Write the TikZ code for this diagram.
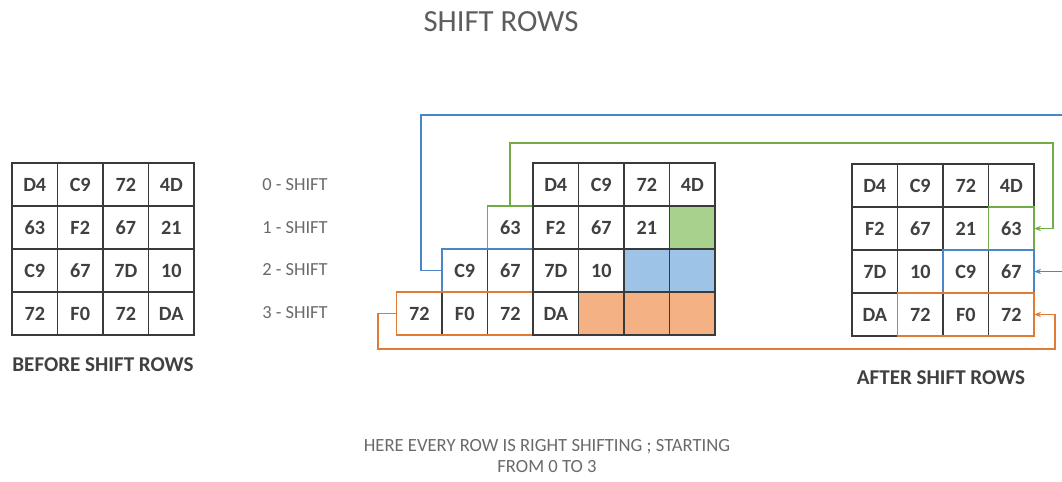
\documentclass[tikz,border=0pt]{standalone}
\usepackage{fontspec}
\setmainfont{Carlito}
\usetikzlibrary{arrows.meta, positioning}

\definecolor{cellline}{HTML}{3A3A3A}
\definecolor{celltext}{HTML}{404040}
\definecolor{labeltext}{HTML}{6A6A6A}
\definecolor{shgreen}{HTML}{A9D18E}
\definecolor{shblue}{HTML}{9DC3E6}
\definecolor{shorange}{HTML}{F4B183}
\definecolor{lgreen}{HTML}{70AD47}
\definecolor{lblue}{HTML}{4A86C8}
\definecolor{lorange}{HTML}{E07B35}

\begin{document}
\begin{tikzpicture}[x=0.02cm, y=-0.02cm, >={Stealth[length=4pt,width=3pt]},
    cell/.style={draw=cellline, line width=1.1pt, fill=white, minimum width=0.91cm,
        minimum height=0.86cm, inner sep=0pt, outer sep=0pt,
        font=\fontsize{11.5}{13}\selectfont\bfseries, text=celltext},
    shiftlbl/.style={font=\fontsize{10.5}{12}\selectfont, text=labeltext},
    caption/.style={font=\fontsize{12}{14}\selectfont\bfseries, text=celltext},
    gline/.style={draw=lgreen, line width=1pt},
    bline/.style={draw=lblue, line width=1pt},
    oline/.style={draw=lorange, line width=1pt}]
    \clip (0,0) rectangle (1062,481);

    % title
    \node[font=\fontsize{17.5}{20}\selectfont, text=celltext!85] (title) at (501,22) {SHIFT ROWS};

    % state before the shift
    \foreach \row [count=\r from 0] in {{D4,C9,72,4D},{63,F2,67,21},{C9,67,7D,10},{72,F0,72,DA}}
        \foreach \t [count=\c from 0] in \row
            \node[cell] (b\r\c) at ({34.75+45.5*\c},{184.5+43*\r}) {\t};
    \node[caption] (before) at (103,365) {BEFORE SHIFT ROWS};

    % shift amounts
    \node[shiftlbl] (s0) at (295,185) {0 - SHIFT};
    \node[shiftlbl] (s1) at (295,228) {1 - SHIFT};
    \node[shiftlbl] (s2) at (295,270) {2 - SHIFT};
    \node[shiftlbl] (s3) at (295,313) {3 - SHIFT};

    % bytes pushed out on the left
    \node[cell] (x10) at (510.25,227.5) {63};
    \node[cell] (x20) at (464.75,270.5) {C9};
    \node[cell] (x21) at (510.25,270.5) {67};
    \node[cell] (x30) at (419.25,313.5) {72};
    \node[cell] (x31) at (464.75,313.5) {F0};
    \node[cell] (x32) at (510.25,313.5) {72};
    \draw[gline] (x10.north west) rectangle (x10.south east);
    \draw[bline] (x20.north west) rectangle (x21.south east);
    \draw[oline] (x30.north west) rectangle (x32.south east);

    % rows after moving
    \foreach \row [count=\r from 0] in {{D4/white,C9/white,72/white,4D/white},
            {F2/white,67/white,21/white,{}/shgreen},
            {7D/white,10/white,{}/shblue,{}/shblue},
            {DA/white,{}/shorange,{}/shorange,{}/shorange}}
        \foreach \t/\f [count=\c from 0] in \row
            \node[cell, fill=\f] (m\r\c) at ({555.75+45.5*\c},{184.5+43*\r}) {\t};

    % state after the shift
    \foreach \row [count=\r from 0] in {{D4,C9,72,4D},{F2,67,21,63},{7D,10,C9,67},{DA,72,F0,72}}
        \foreach \t [count=\c from 0] in \row
            \node[cell] (a\r\c) at ({874.75+45.5*\c},{185.5+43*\r}) {\t};
    \draw[gline] (a13.north west) rectangle (a13.south east);
    \draw[bline] (a22.north west) rectangle (a23.south east);
    \draw[oline] (a31.north west) rectangle (a33.south east);
    \node[caption] (after) at (941,378) {AFTER SHIFT ROWS};

    % wrap-around connectors
    \draw[bline, ->] (x20.west) -| (421,115) -- (1075,115) |- (a23.east);
    \draw[gline, ->] (x10.north) |- (1053,143) |- (a13.east);
    \draw[oline, ->] (x30.west) -| (378,349) -- (1055,349) |- (a33.east);

    \node[font=\fontsize{10.6}{11.5}\selectfont, text=labeltext, align=center] (note) at (547,456)
        {HERE EVERY ROW IS RIGHT SHIFTING ; STARTING\\FROM 0 TO 3};
\end{tikzpicture}
\end{document}
